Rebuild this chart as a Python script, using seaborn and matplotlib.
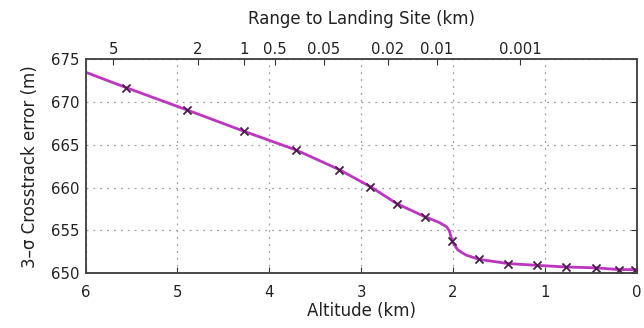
import matplotlib
matplotlib.use("Agg")
import matplotlib.pyplot as plt
import seaborn as sns
import pandas as pd

# Data
alt_line = [6.0, 5.56, 4.90, 4.28, 3.71, 3.24, 2.90, 2.61, 2.31, 2.15, 2.07, 2.04,
            2.01, 1.95, 1.86, 1.72, 1.40, 1.09, 0.77, 0.44, 0.20, 0.0]
err_line = [673.5, 671.7, 669.1, 666.6, 664.4, 662.1, 660.1, 658.1, 656.6, 655.9, 655.4, 654.9,
            653.7, 652.7, 652.1, 651.6, 651.1, 650.9, 650.7, 650.6, 650.4, 650.4]
alt_mk = [5.56, 4.90, 4.28, 3.71, 3.24, 2.90, 2.61, 2.31, 2.01, 1.72, 1.40, 1.09, 0.77, 0.44, 0.20, 0.02]
err_mk = [671.7, 669.1, 666.6, 664.4, 662.1, 660.1, 658.1, 656.6, 653.7, 651.6, 651.1, 650.9, 650.7, 650.6, 650.4, 650.4]
range_ticks_alt = [5.70, 4.78, 4.28, 3.94, 3.41, 2.71, 2.18, 1.27]
range_labels = ["5", "2", "1", "0.5", "0.05", "0.02", "0.01", "0.001"]
x_ticks = [6, 5, 4, 3, 2, 1, 0]
y_ticks = [650, 655, 660, 665, 670, 675]

sns.set_style("white")
plt.rcParams['font.family'] = ['DejaVu Sans']

TICK_FS = 10.7
LABEL_FS = 12

fig = plt.figure(figsize=(6.44, 3.28), dpi=100)
ax = fig.add_axes([0.1328, 0.1677, 0.8562, 0.6513])

df_line = pd.DataFrame({"alt": alt_line, "err": err_line})
df_mk = pd.DataFrame({"alt": alt_mk, "err": err_mk})

sns.lineplot(data=df_line, x="alt", y="err", ax=ax, color="#bd35c0", linewidth=2.0,
             sort=False, estimator=None)
sns.scatterplot(data=df_mk, x="alt", y="err", ax=ax, marker="x", color="#4a1f4a",
                s=34, linewidth=1.3, zorder=5)

ax.set_xlim(6, 0)
ax.set_ylim(650, 675)
ax.set_xticks(x_ticks)
ax.set_yticks(y_ticks)
ax.set_xticklabels([str(t) for t in x_ticks])
ax.set_yticklabels([str(t) for t in y_ticks])
ax.set_xlabel("Altitude (km)", fontsize=LABEL_FS, labelpad=1, color="#222222")
ax.set_ylabel("3\u2013\u03c3 Crosstrack error (m)", fontsize=LABEL_FS, labelpad=9, color="#222222")
ax.grid(True, linestyle=(0, (1.5, 4)), color="#a0a0a0", linewidth=0.9)
ax.tick_params(axis="x", direction="in", length=4, width=0.8, color="#333333",
               top=False, labelsize=TICK_FS, pad=9, labelcolor="#222222")
ax.tick_params(axis="y", direction="in", length=4, width=0.8, color="#333333",
               right=True, labelsize=TICK_FS, pad=4, labelcolor="#222222")
for s in ax.spines.values():
    s.set_color("#444444")
    s.set_linewidth(1.1)
    s.set_visible(True)

ax2 = ax.twiny()
ax2.set_xlim(ax.get_xlim())
ax2.set_xticks(range_ticks_alt)
ax2.set_xticklabels(range_labels)
ax2.tick_params(direction="in", length=4, width=0.8, color="#333333", labelsize=TICK_FS,
                pad=1.5, labelcolor="#222222")
ax2.set_xlabel("Range to Landing Site (km)", fontsize=LABEL_FS, labelpad=13, color="#222222")
for s in ax2.spines.values():
    s.set_color("#444444")
    s.set_linewidth(1.1)

fig.savefig("out.png", dpi=100)
